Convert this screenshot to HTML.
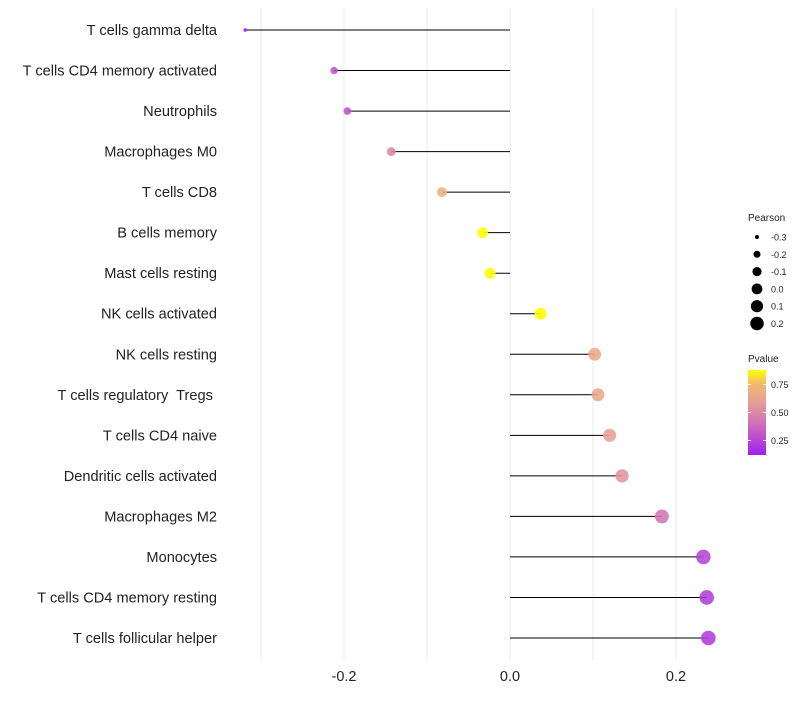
<!DOCTYPE html>
<html><head><meta charset="utf-8"><style>
body{margin:0;background:#fff;font-family:"Liberation Sans",sans-serif}
svg text{font-family:"Liberation Sans",sans-serif;white-space:pre}
</style></head><body>
<svg id="c" width="800" height="700"></svg>
<script>
const categories=["T cells gamma delta","T cells CD4 memory activated","Neutrophils","Macrophages M0","T cells CD8","B cells memory","Mast cells resting","NK cells activated","NK cells resting","T cells regulatory  Tregs ","T cells CD4 naive","Dendritic cells activated","Macrophages M2","Monocytes","T cells CD4 memory resting","T cells follicular helper"];
const pearson=[-0.319,-0.212,-0.196,-0.143,-0.082,-0.033,-0.024,0.037,0.102,0.106,0.120,0.135,0.183,0.233,0.237,0.239];
const pvalues=[0.13,0.3,0.3,0.5,0.7,0.88,0.9,0.88,0.65,0.65,0.6,0.55,0.42,0.25,0.22,0.22];
const xTicks=[-0.2,0.0,0.2];
const xTickLabels=["-0.2","0.0","0.2"];
const sizeLegend=[-0.3,-0.2,-0.1,0.0,0.1,0.2];
const colorTicks=[0.25,0.50,0.75];
const NS="http://www.w3.org/2000/svg",svg=document.getElementById('c');
function el(t,a,p){const e=document.createElementNS(NS,t);for(const k in a)e.setAttribute(k,a[k]);(p||svg).appendChild(e);return e;}
const X=v=>510+v*830;
const Y=i=>30+i*(608/15);
const R=v=>Math.sqrt(Math.max(1,29+83.5*v));
const stops=[[0.12,[160,32,240]],[0.4,[208,112,184]],[0.6,[232,160,150]],[0.75,[240,184,112]],[0.88,[255,255,0]]];
function col(p){if(p<=stops[0][0])return `rgb(${stops[0][1]})`;for(let i=1;i<stops.length;i++){if(p<=stops[i][0]){const a=stops[i-1],b=stops[i],t=(p-a[0])/(b[0]-a[0]);return `rgb(${a[1].map((c,j)=>Math.round(c+(b[1][j]-c)*t)).join(',')})`;}}return `rgb(${stops[stops.length-1][1]})`;}
[-0.3,-0.2,-0.1,0,0.1,0.2].forEach(v=>{const g=el('line',{x1:X(v),x2:X(v),y1:8,y2:660,stroke:'#ebebeb','stroke-width':1});

});
xTicks.forEach((v,i)=>{const t=el('text',{x:X(v),y:681,'text-anchor':'middle','font-size':14.5,fill:'#222'});t.textContent=xTickLabels[i];

});
categories.forEach((c,i)=>{
const y=Y(i);
const t=el('text',{x:217,y:y+5,'text-anchor':'end','font-size':14.6,fill:'#222','xml:space':'preserve'});t.textContent=c;


const l=el('line',{x1:X(0),x2:X(pearson[i]),y1:y,y2:y,stroke:'#000','stroke-width':1});


const d=el('circle',{cx:X(pearson[i]),cy:y,r:R(pearson[i])+0.3,fill:col(pvalues[i]),'fill-opacity':0.88});


});
const st=el('text',{x:748,y:221,'font-size':10,fill:'#222'});st.textContent='Pearson';


sizeLegend.forEach((v,i)=>{const y=237+i*17.3;
const c=el('circle',{cx:757,cy:y,r:R(v),fill:'#000'});


const t=el('text',{x:771,y:y+3.5,'font-size':9,fill:'#222'});t.textContent=v.toFixed(1);

});
const ct=el('text',{x:748,y:362,'font-size':10,fill:'#222'});ct.textContent='Pvalue';


const defs=el('defs',{});const lg=el('linearGradient',{id:'g',x1:0,y1:1,x2:0,y2:0},defs);
stops.forEach(s=>el('stop',{offset:(s[0]-0.12)/0.76,'stop-color':`rgb(${s[1]})`},lg));
const cb=el('rect',{x:748,y:370,width:18,height:85,fill:'url(#g)'});


const CY=p=>455-(p-0.12)/0.76*85;
colorTicks.forEach(p=>{const t=el('text',{x:771,y:CY(p)+3.5,'font-size':9,fill:'#222'});t.textContent=p.toFixed(2);


el('line',{x1:748,x2:751,y1:CY(p),y2:CY(p),stroke:'#fff'});el('line',{x1:763,x2:766,y1:CY(p),y2:CY(p),stroke:'#fff'});});
</script>
</body></html>
